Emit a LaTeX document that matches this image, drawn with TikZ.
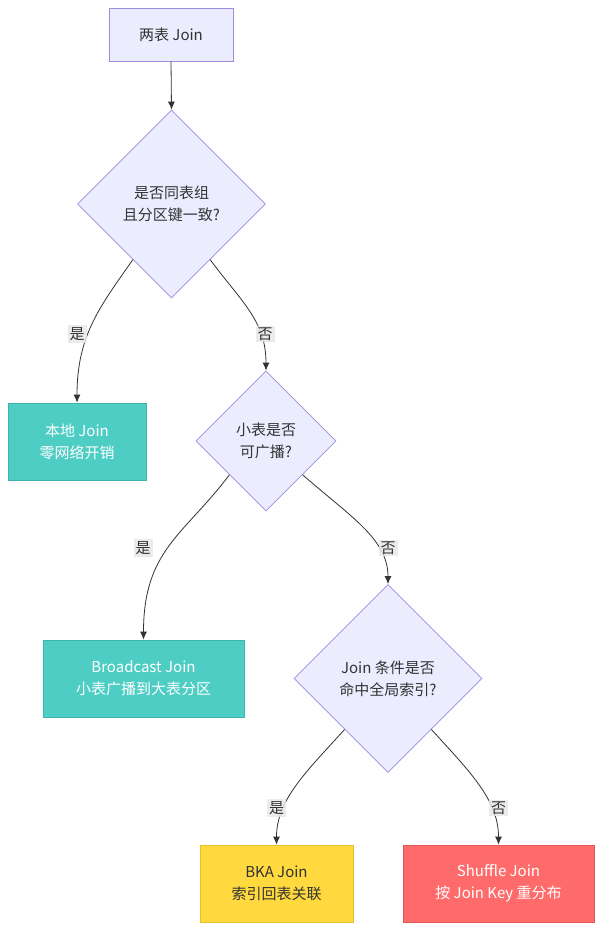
\documentclass[tikz,border=0pt]{standalone}
\usepackage{fontspec}
\setmainfont{Noto Sans CJK SC}
\usetikzlibrary{shapes.geometric,arrows.meta,calc}
\definecolor{qfill}{HTML}{ECECFF}
\definecolor{qdraw}{HTML}{9F8BE0}
\definecolor{tealfill}{HTML}{4ECDC4}
\definecolor{tealdraw}{HTML}{3DB5AD}
\definecolor{yelfill}{HTML}{FFD93D}
\definecolor{yeldraw}{HTML}{E8BE2A}
\definecolor{redfill}{HTML}{FF6B6B}
\definecolor{reddraw}{HTML}{E05858}
\definecolor{ink}{HTML}{333333}
\definecolor{lblbg}{HTML}{E8E8E8}
\tikzset{
  base/.style={font=\fontsize{15}{22}\selectfont, align=center, inner sep=0pt, line width=0.8pt},
  procbox/.style={base, rectangle, draw=qdraw, fill=qfill, text=ink},
  decide/.style={base, diamond, shape aspect=1, draw=qdraw, fill=qfill, text=ink},
  goodbox/.style={base, rectangle, draw=tealdraw, fill=tealfill, text=white},
  yelbox/.style={base, rectangle, draw=yeldraw, fill=yelfill, text=ink},
  redbox/.style={base, rectangle, draw=reddraw, fill=redfill, text=white},
  edge/.style={draw=ink, line width=0.8pt, -{Latex[length=8pt,width=7pt]}},
  elabel/.style={font=\fontsize{15}{16}\selectfont, fill=lblbg, fill opacity=0.85, text opacity=1, text=ink, inner sep=2pt}
}
\begin{document}
\begin{tikzpicture}[x=1pt,y=1pt]
\useasboundingbox (0,0) rectangle (610,-942);
\fill[white] (0,0) rectangle (610,-942);

\node[procbox, minimum width=124pt, minimum height=53pt] (start) at (171,-34.5) {两表 Join};
\node[decide, minimum width=188pt, minimum height=188pt] (d1) at (171.5,-204) {是否同表组\\且分区键一致?};
\node[goodbox, minimum width=138pt, minimum height=77pt] (local) at (77,-441.5) {本地 Join\\零网络开销};
\node[decide, minimum width=140pt, minimum height=140pt] (d2) at (266,-441) {小表是否\\可广播?};
\node[goodbox, minimum width=201pt, minimum height=77pt] (bcast) at (143.5,-678.5) {Broadcast Join\\小表广播到大表分区};
\node[decide, minimum width=188pt, minimum height=188pt] (d3) at (388,-678.5) {Join 条件是否\\命中全局索引?};
\node[yelbox, minimum width=153pt, minimum height=77pt] (bka) at (276.5,-883.5) {BKA Join\\索引回表关联};
\node[redbox, minimum width=191pt, minimum height=77pt] (shuf) at (498.5,-883.5) {Shuffle Join\\按 Join Key 重分布};

\coordinate (s1l) at ($(d1.south)!0.41!(d1.west)$);
\coordinate (s1r) at ($(d1.south)!0.41!(d1.east)$);
\coordinate (s2l) at ($(d2.south)!0.52!(d2.west)$);
\coordinate (s2r) at ($(d2.south)!0.52!(d2.east)$);
\coordinate (s3l) at ($(d3.south)!0.46!(d3.west)$);
\coordinate (s3r) at ($(d3.south)!0.46!(d3.east)$);

\draw[edge] (start.south) -- (d1.north);
\draw[edge] (s1l) .. controls +(-32,-46) and +(0,68) .. (local.north);
\draw[edge] (s1r) .. controls +(31,-42) and +(0,50) .. (d2.north);
\draw[edge] (s2l) .. controls +(-45,-60) and +(0,90) .. (bcast.north);
\draw[edge] (s2r) .. controls +(48,-42) and +(0,45) .. (d3.north);
\draw[edge] (s3l) .. controls +(-38,-42) and +(0,45) .. (bka.north);
\draw[edge] (s3r) .. controls +(38,-42) and +(0,45) .. (shuf.north);

\node[elabel] (l1) at (77,-334) {是};
\node[elabel] (l2) at (265,-334) {否};
\node[elabel] (l3) at (143,-548) {是};
\node[elabel] (l4) at (388,-548) {否};
\node[elabel] (l5) at (276.5,-808) {是};
\node[elabel] (l6) at (498.5,-808) {否};
\end{tikzpicture}
\end{document}
